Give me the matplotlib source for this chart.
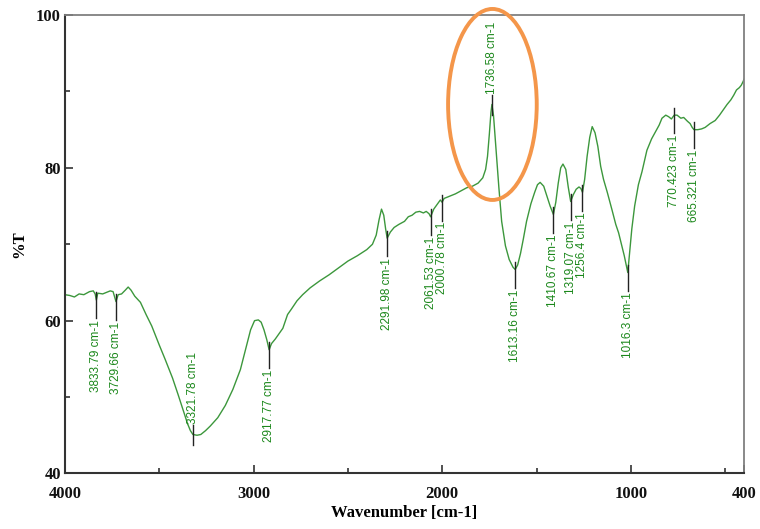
import numpy as np
import matplotlib
matplotlib.use("Agg")
import matplotlib.pyplot as plt
from matplotlib.patches import Ellipse

# ==========================================================
# Spectrum data
# ==========================================================

wavenumber = [
    4000, 3975, 3950, 3925, 3900, 3870, 3850, 3840, 3833.79, 3826,
    3800, 3780, 3760, 3745, 3729.66, 3718, 3700, 3680, 3665, 3650,
    3630, 3600, 3570, 3540, 3500, 3470, 3430, 3400, 3370, 3350,
    3335, 3321.78, 3300, 3280, 3255, 3230, 3190, 3150, 3110, 3070,
    3040, 3016, 2995, 2975, 2960, 2945, 2930, 2917.77, 2905, 2885,
    2865, 2845, 2820, 2800, 2770, 2740, 2700, 2650, 2600, 2550,
    2500, 2450, 2400, 2370, 2350, 2335, 2322, 2310, 2300, 2291.98,
    2275, 2255, 2230, 2200, 2180, 2160, 2140, 2120, 2100, 2085,
    2070, 2061.53, 2045, 2025, 2010, 2000.78, 1990, 1960, 1930, 1900,
    1870, 1840, 1810, 1785, 1770, 1760, 1750, 1742, 1736.58, 1728,
    1715, 1700, 1685, 1665, 1645, 1625, 1613.16, 1600, 1585, 1570,
    1553, 1530, 1510, 1495, 1481, 1462, 1445, 1428, 1410.67, 1398,
    1385, 1372, 1360, 1345, 1332, 1319.07, 1305, 1290, 1275, 1265,
    1256.4, 1245, 1232, 1218, 1205, 1190, 1175, 1160, 1145, 1125,
    1100, 1080, 1065, 1050, 1035, 1022, 1016.3, 1008, 995, 980,
    960, 941, 915, 890, 872, 850, 835, 815, 800, 785,
    770.423, 755, 735, 720, 700, 686, 675, 665.321, 645, 625,
    606, 580, 553, 530, 510, 490, 470, 455, 440, 425,
    415, 405, 400,
]

transmittance = [
    63.4, 63.3, 63.1, 63.5, 63.4, 63.8, 63.9, 63.5, 62.7, 63.6,
    63.5, 63.7, 63.9, 63.8, 62.5, 63.4, 63.5, 64.0, 64.4, 64.0,
    63.2, 62.4, 60.8, 59.3, 56.8, 55.0, 52.5, 50.3, 48.0, 46.5,
    45.6, 45.1, 45.0, 45.1, 45.6, 46.2, 47.3, 48.9, 51.0, 53.6,
    56.5, 58.8, 60.0, 60.1, 59.8, 58.8, 57.5, 56.2, 57.0, 57.6,
    58.3, 59.0, 60.8, 61.5, 62.6, 63.4, 64.3, 65.2, 66.0, 66.9,
    67.8, 68.5, 69.3, 70.0, 71.2, 73.2, 74.6, 73.8, 72.0, 70.8,
    71.6, 72.2, 72.6, 73.0, 73.6, 73.8, 74.2, 74.3, 74.1, 74.3,
    74.0, 73.6, 74.6, 75.3, 75.8, 75.5, 76.0, 76.3, 76.6, 77.0,
    77.4, 77.6, 78.0, 78.7, 79.8, 81.5, 84.5, 87.2, 88.3, 86.8,
    82.5, 77.5, 73.0, 69.8, 68.0, 67.0, 66.7, 67.3, 68.8, 70.7,
    73.0, 75.3, 76.8, 77.8, 78.1, 77.6, 76.3, 75.0, 73.9, 75.5,
    78.0, 80.0, 80.5, 79.8, 77.5, 75.6, 76.5, 77.2, 77.5, 77.3,
    76.8, 78.5, 81.5, 84.0, 85.4, 84.6, 82.8, 80.2, 78.5, 76.8,
    74.5, 72.6, 71.5, 70.0, 68.5, 67.0, 66.3, 68.5, 72.0, 75.0,
    77.8, 79.5, 82.3, 83.8, 84.6, 85.6, 86.5, 86.9, 86.7, 86.4,
    86.9, 86.9, 86.5, 86.6, 86.1, 85.8, 85.3, 85.0, 85.0, 85.1,
    85.3, 85.8, 86.2, 86.9, 87.6, 88.3, 88.9, 89.5, 90.2, 90.5,
    90.8, 91.3, 91.6,
]

# ==========================================================
# Peak labels
# ==========================================================

peak_wn = [3833.79, 3729.66, 3321.78, 2917.77, 2291.98, 2061.53, 2000.78,
           1736.58, 1613.16, 1410.67, 1319.07, 1256.4, 1016.3, 770.423, 665.321]

peak_text = ["3833.79 cm-1", "3729.66 cm-1", "3321.78 cm-1", "2917.77 cm-1",
             "2291.98 cm-1", "2061.53 cm-1", "2000.78 cm-1", "1736.58 cm-1",
             "1613.16 cm-1", "1410.67 cm-1", "1319.07 cm-1", "1256.4 cm-1",
             "1016.3 cm-1", "770.423 cm-1", "665.321 cm-1"]

label_above = ["3321.78 cm-1", "1736.58 cm-1"]

x_major = [4000, 3000, 2000, 1000, 400]
x_minor = [3500, 2500, 1500, 500]
y_major = [40, 60, 80, 100]
y_minor = [50, 70, 90]

# ==========================================================
# Plot
# ==========================================================

fig = plt.figure(figsize=(7.6, 5.29), dpi=100)
ax = fig.add_axes([0.0855, 0.105, 0.8935, 0.8665])

ax.plot(wavenumber, transmittance, color="#3c973c", linewidth=1.0)

wn_arr = np.array(wavenumber)[::-1]
t_arr = np.array(transmittance)[::-1]

for wn, txt in zip(peak_wn, peak_text):
    y = np.interp(wn, wn_arr, t_arr)
    if txt in label_above:
        ax.plot([wn, wn], [y - 1.4, y + 1.3], color="#222222", linewidth=1.0)
        ax.text(wn, y + 1.4, txt, rotation=90, ha="center", va="bottom",
                color="#1a871a", fontsize=8.5, family="Liberation Sans")
    else:
        ax.plot([wn, wn], [y + 1.0, y - 2.4], color="#222222", linewidth=1.0)
        ax.text(wn, y - 2.6, txt, rotation=90, ha="center", va="top",
                color="#1a871a", fontsize=8.5, family="Liberation Sans")

# highlight ellipse round the 1736 cm-1 peak
ell = Ellipse((1734, 88.3), width=470, height=25, fill=False,
              edgecolor="#f4964a", linewidth=2.8, clip_on=False, zorder=5)
ax.add_patch(ell)

# ==========================================================
# Axes
# ==========================================================

ax.set_xlim(4000, 400)
ax.set_ylim(40, 100)

ax.set_xticks(x_major)
ax.set_xticks(x_minor, minor=True)
ax.set_yticks(y_major)
ax.set_yticks(y_minor, minor=True)

ax.tick_params(which="major", direction="in", length=6, width=1.2,
               color="#333333")
ax.tick_params(which="minor", direction="in", length=3.5, width=1.2,
               color="#333333")
ax.tick_params(top=False, right=False, which="both")
ax.tick_params(axis="x", which="major", pad=9)
ax.tick_params(axis="y", which="major", pad=3)

for lab in ax.get_xticklabels() + ax.get_yticklabels():
    lab.set_family("Liberation Serif")
    lab.set_fontweight("bold")
    lab.set_fontsize(12)
    lab.set_color("#111111")

for side in ["left", "bottom"]:
    ax.spines[side].set_color("#333333")
    ax.spines[side].set_linewidth(1.5)
for side in ["top", "right"]:
    ax.spines[side].set_color("#808080")
    ax.spines[side].set_linewidth(1.3)

ax.set_xlabel("Wavenumber [cm-1]", family="Liberation Serif",
              fontweight="bold", fontsize=12, labelpad=2)
ax.set_ylabel("%T", family="Liberation Serif", fontweight="bold",
              fontsize=12, labelpad=6)

fig.savefig("out.png", dpi=100)
